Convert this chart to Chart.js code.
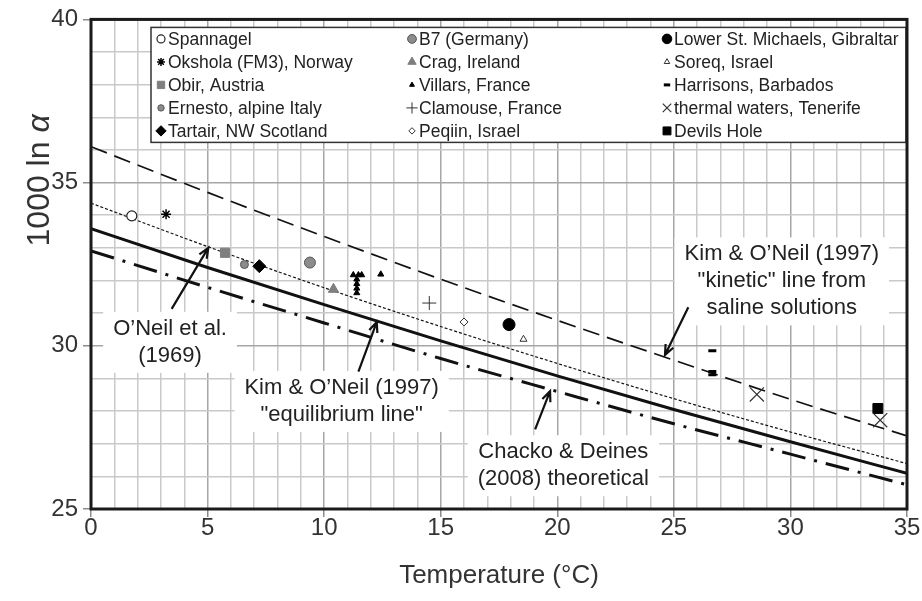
<!DOCTYPE html>
<html lang="en">
<head>
  <meta charset="UTF-8">
  <title>1000 ln α vs temperature</title>
  <script src="https://cdn.jsdelivr.net/npm/chart.js"></script>
  <style>
    body { margin: 0; background: #fff; }
    #wrap { width: 922px; height: 601px; }
  </style>
</head>
<body>
  <div id="wrap"><canvas id="chart" width="922" height="601"></canvas></div>

  <script>
    const lineTemps = [0, 5, 10, 15, 20, 25, 30, 35];
    const kineticLine = [36.10, 34.70, 33.35, 32.04, 30.78, 29.56, 28.36, 27.24];
    const oneil1969Line = [34.37, 33.04, 31.78, 30.59, 29.46, 28.38, 27.36, 26.39];
    const kimOneilLine = [33.59, 32.40, 31.26, 30.15, 29.08, 28.05, 27.06, 26.09];
    const chackoLine = [32.91, 31.79, 30.70, 29.61, 28.60, 27.61, 26.68, 25.74];

    // cave / site measurements, legend order (column by column)
    const siteNames = [
      'Spannagel', 'Okshola (FM3), Norway', 'Obir, Austria', 'Ernesto, alpine Italy', 'Tartair, NW Scotland',
      'B7 (Germany)', 'Crag, Ireland', 'Villars, France', 'Clamouse, France', 'Peqiin, Israel',
      'Lower St. Michaels, Gibraltar', 'Soreq, Israel', 'Harrisons, Barbados', 'thermal waters, Tenerife', 'Devils Hole'
    ];
    const siteTemps = [
      [1.75], [3.22], [5.75], [6.58], [7.22],
      [9.39], [10.4], [11.25, 11.47, 11.61, 11.4, 11.4, 11.4, 11.4, 12.43], [14.51], [16.0],
      [17.93], [18.55], [26.65, 26.65, 26.65], [28.56, 33.85], [33.75]
    ];
    const siteValues = [
      [33.98], [34.03], [32.85], [32.49], [32.44],
      [32.55], [31.73], [32.17, 32.17, 32.17, 32.04, 31.90, 31.76, 31.62, 32.19], [31.31], [30.73],
      [30.65], [30.20], [29.85, 29.21, 29.11], [28.51, 27.72], [28.08]
    ];

    // marker look for each site (same order as siteNames)
    const siteStyles = [
      { pointStyle: 'circle', r: 5, fill: '#fff', stroke: '#222', bw: 1.2 },
      { pointStyle: 'star', r: 5, fill: '#000', stroke: '#000', bw: 1.5 },
      { pointStyle: 'rect', r: 6.5, fill: '#7f7f7f', stroke: '#7f7f7f', bw: 1 },
      { pointStyle: 'circle', r: 4, fill: '#8c8c8c', stroke: '#555', bw: 1 },
      { pointStyle: 'rectRot', r: 6.5, fill: '#000', stroke: '#000', bw: 1 },
      { pointStyle: 'circle', r: 5.5, fill: '#8c8c8c', stroke: '#555', bw: 1 },
      { pointStyle: 'triangle', r: 6, fill: '#7f7f7f', stroke: '#7f7f7f', bw: 1 },
      { pointStyle: 'triangle', r: 3.5, fill: '#000', stroke: '#000', bw: 1 },
      { pointStyle: 'cross', r: 7, fill: '#333', stroke: '#333', bw: 1 },
      { pointStyle: 'rectRot', r: 4, fill: '#fff', stroke: '#333', bw: 1 },
      { pointStyle: 'circle', r: 6, fill: '#000', stroke: '#000', bw: 1 },
      { pointStyle: 'triangle', r: 4, fill: '#fff', stroke: '#333', bw: 1 },
      { pointStyle: 'line', r: 4, fill: '#000', stroke: '#000', bw: 3 },
      { pointStyle: 'crossRot', r: 10, fill: '#333', stroke: '#333', bw: 1.2 },
      { pointStyle: 'rect', r: 7, fill: '#000', stroke: '#000', bw: 1 }
    ];

    // text notes with arrows, anchored in data units (°C, 1000 ln α)
    const notes = [
      { lines: ['O\u2019Neil et al.', '(1969)'], x: 3.39, y: 30.52, from: [3.46, 31.13], to: [5.03, 33.0] },
      { lines: ['Kim & O\u2019Neil (1997)', '"equilibrium line"'], x: 10.75, y: 28.71, from: [11.47, 29.21], to: [12.26, 30.73] },
      { lines: ['Chacko & Deines', '(2008) theoretical'], x: 20.26, y: 26.74, from: [19.05, 27.44], to: [19.69, 28.61] },
      { lines: ['Kim & O\u2019Neil (1997)', '"kinetic" line from', 'saline solutions'], x: 29.63, y: 32.80, from: [25.62, 31.18], to: [24.62, 29.72] }
    ];

    const FONT = 'Liberation Sans, Arial, Helvetica, sans-serif';

    function pairs(xs, ys) {
      return xs.map((x, i) => ({ x: x, y: ys[i] }));
    }

    const datasets = [];
    siteNames.forEach((name, i) => {
      const s = siteStyles[i];
      datasets.push({
        label: name,
        data: pairs(siteTemps[i], siteValues[i]),
        pointStyle: s.pointStyle,
        pointRadius: s.r,
        pointHoverRadius: s.r,
        pointBackgroundColor: s.fill,
        pointBorderColor: s.stroke,
        pointBorderWidth: s.bw,
        showLine: false
      });
    });

    function curve(label, values, width, dash) {
      return {
        label: label,
        data: pairs(lineTemps, values),
        showLine: true,
        borderColor: '#111',
        borderWidth: width,
        borderDash: dash,
        pointRadius: 0,
        cubicInterpolationMode: 'monotone'
      };
    }
    datasets.push(curve('Kim & O\'Neil kinetic', kineticLine, 1.7, [17, 8]));
    datasets.push(curve('O\'Neil et al. 1969', oneil1969Line, 1.2, [3, 2]));
    datasets.push(curve('Kim & O\'Neil equilibrium', kimOneilLine, 3, []));
    datasets.push(curve('Chacko & Deines 2008', chackoLine, 3, [24, 9, 3, 9]));

    function drawMarker(ctx, s, x, y, r) {
      ctx.save();
      ctx.fillStyle = s.fill;
      ctx.strokeStyle = s.stroke;
      ctx.lineWidth = s.bw;
      Chart.helpers.drawPoint(ctx, { pointStyle: s.pointStyle, radius: r, rotation: 0, borderWidth: s.bw }, x, y);
      ctx.restore();
    }

    // white boxes behind the notes, then text and arrows
    const notesPlugin = {
      id: 'notes',
      beforeDatasetsDraw(chart) {
        const { ctx, scales: { x, y } } = chart;
        ctx.save();
        ctx.font = '22px ' + FONT;
        notes.forEach(n => {
          const cx = x.getPixelForValue(n.x);
          const cy = y.getPixelForValue(n.y);
          const w = Math.max(...n.lines.map(t => ctx.measureText(t).width));
          ctx.fillStyle = '#fff';
          ctx.fillRect(cx - w / 2 - 10, cy - 17, w + 20, (n.lines.length - 1) * 27 + 34);
        });
        ctx.restore();
      },
      afterDatasetsDraw(chart) {
        const { ctx, scales: { x, y } } = chart;
        ctx.save();
        ctx.font = '22px ' + FONT;
        ctx.fillStyle = '#222';
        ctx.textAlign = 'center';
        ctx.textBaseline = 'middle';
        notes.forEach(n => {
          const cx = x.getPixelForValue(n.x);
          const cy = y.getPixelForValue(n.y);
          n.lines.forEach((t, k) => ctx.fillText(t, cx, cy + k * 27));

          const x0 = x.getPixelForValue(n.from[0]), y0 = y.getPixelForValue(n.from[1]);
          const x1 = x.getPixelForValue(n.to[0]), y1 = y.getPixelForValue(n.to[1]);
          const a = Math.atan2(y1 - y0, x1 - x0);
          ctx.strokeStyle = '#111';
          ctx.lineWidth = 2.2;
          ctx.beginPath();
          ctx.moveTo(x0, y0);
          ctx.lineTo(x1, y1);
          ctx.moveTo(x1 - 11 * Math.cos(a - 0.4), y1 - 11 * Math.sin(a - 0.4));
          ctx.lineTo(x1, y1);
          ctx.lineTo(x1 - 11 * Math.cos(a + 0.4), y1 - 11 * Math.sin(a + 0.4));
          ctx.stroke();
        });
        ctx.restore();
      }
    };

    // boxed three-column legend inside the plot
    const legendPlugin = {
      id: 'boxLegend',
      afterDatasetsDraw(chart) {
        const { ctx, chartArea: ca } = chart;
        const left = ca.left + 60, top = ca.top + 8;
        const right = ca.right - 1, bottom = top + 115;
        ctx.save();
        ctx.fillStyle = '#fff';
        ctx.fillRect(left, top, right - left, bottom - top);
        ctx.strokeStyle = '#333';
        ctx.lineWidth = 1.5;
        ctx.strokeRect(left, top, right - left, bottom - top);

        const colX = [left + 10, left + 261, left + 516];
        ctx.font = '17.5px ' + FONT;
        ctx.textBaseline = 'middle';
        ctx.textAlign = 'left';
        siteNames.forEach((name, i) => {
          const col = Math.floor(i / 5), row = i % 5;
          const mx = colX[col], my = top + 11.5 + row * 23;
          const s = siteStyles[i];
          drawMarker(ctx, s, mx, my, Math.min(s.r * 0.8, 6));
          ctx.fillStyle = '#222';
          ctx.fillText(name, mx + 7, my + 1);
        });
        ctx.restore();
      }
    };

    // plot frame plus the y title (regular text with an italic alpha)
    const framePlugin = {
      id: 'frame',
      afterDraw(chart) {
        const { ctx, chartArea: ca } = chart;
        ctx.save();
        ctx.strokeStyle = '#1a1a1a';
        ctx.lineWidth = 3;
        ctx.strokeRect(ca.left, ca.top, ca.right - ca.left, ca.bottom - ca.top);

        ctx.translate(40, ca.top + 161);
        ctx.rotate(-Math.PI / 2);
        ctx.fillStyle = '#333';
        ctx.textBaseline = 'middle';
        ctx.textAlign = 'left';
        const main = '1000 ln ', greek = 'α';
        ctx.font = '32px ' + FONT;
        const w1 = ctx.measureText(main).width;
        ctx.font = 'italic 32px ' + FONT;
        const w2 = ctx.measureText(greek).width;
        const start = -(w1 + w2) / 2;
        ctx.font = '32px ' + FONT;
        ctx.fillText(main, start, 0);
        ctx.font = 'italic 32px ' + FONT;
        ctx.fillText(greek, start + w1, 0);
        ctx.restore();
      }
    };

    const gridColor = c => (c.tick && c.tick.value % 5 === 0) ? '#a6a6a6' : '#c9c9c9';
    const tickColor = c => (c.tick && c.tick.value % 5 === 0) ? '#8c8c8c' : 'rgba(0,0,0,0)';

    new Chart(document.getElementById('chart'), {
      type: 'scatter',
      data: { datasets: datasets },
      plugins: [notesPlugin, legendPlugin, framePlugin],
      options: {
        responsive: false,
        animation: false,
        layout: { padding: { top: 14, right: 15, left: 0, bottom: 0 } },
        plugins: {
          legend: { display: false },
          tooltip: { enabled: false }
        },
        scales: {
          x: {
            type: 'linear',
            min: 0,
            max: 35,
            afterFit: s => { s.height = 92; },
            ticks: {
              stepSize: 1,
              autoSkip: false,
              maxRotation: 0,
              padding: -3,
              color: '#333',
              font: { family: FONT, size: 24 },
              callback: v => (v % 5 === 0 ? v : '')
            },
            grid: { color: gridColor, lineWidth: 1.5, tickLength: 8, tickColor: tickColor, tickWidth: 1.5 },
            border: { display: false },
            title: {
              display: true,
              text: 'Temperature (°C)',
              color: '#333',
              font: { family: FONT, size: 26 },
              padding: { top: 0, bottom: 10 }
            }
          },
          y: {
            min: 25,
            max: 40,
            afterFit: s => { s.width = 91; },
            ticks: {
              stepSize: 1,
              autoSkip: false,
              padding: 5,
              color: '#333',
              font: { family: FONT, size: 24 },
              callback: v => (v % 5 === 0 ? v : '')
            },
            grid: { color: gridColor, lineWidth: 1.5, tickLength: 8, tickColor: tickColor, tickWidth: 1.5 },
            border: { display: false },
            title: { display: false }
          }
        }
      }
    });
  </script>
</body>
</html>
